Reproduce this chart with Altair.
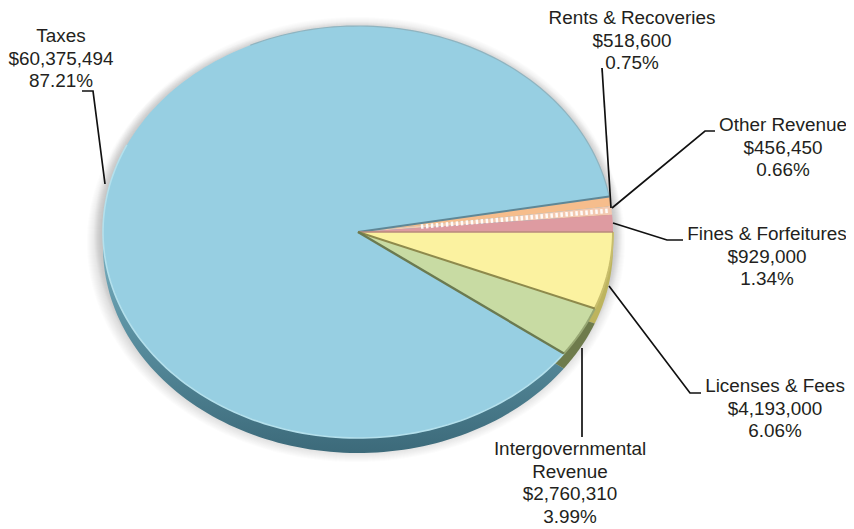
import math
import altair as alt
import pandas as pd

# ---- chart values
categories = ["Rents & Recoveries", "Other Revenue", "Fines & Forfeitures",
              "Licenses & Fees", "Intergovernmental Revenue", "Taxes"]
amounts = [518600, 456450, 929000, 4193000, 2760310, 60375494]
amount_labels = ["$518,600", "$456,450", "$929,000", "$4,193,000", "$2,760,310", "$60,375,494"]
pct_labels = ["0.75%", "0.66%", "1.34%", "6.06%", "3.99%", "87.21%"]

# ---- styles and layout (pixels of the page)
face = ["#F6BD8C", "#F3C9B0", "#DE9BA1", "#FBF2A0", "#C8DBA3", "#97CFE2"]
rim = ["#C99A70", "#C99A70", "#B57E82", "#BDB45E", "#6E7B4C", "#4A7A8B"]
edge = ["#C9A27E", "#DDAA9A", "#B98A7C", "#8E8A4C", "#6B7A50", "#5F8796"]
CX, CY, RX, RY, DEPTH = 358, 232, 255, 206, 15
START_DEG = 9.9
label_lines = [
    ["Rents & Recoveries", "$518,600", "0.75%"],
    ["Other Revenue", "$456,450", "0.66%"],
    ["Fines & Forfeitures", "$929,000", "1.34%"],
    ["Licenses & Fees", "$4,193,000", "6.06%"],
    ["Intergovernmental", "Revenue", "$2,760,310", "3.99%"],
    ["Taxes", "$60,375,494", "87.21%"],
]
label_x = [632, 783, 767, 775, 570, 61]
label_y = [18, 125, 234, 386, 449, 36]
LINE_H = 22.6
leaders = [
    [(602, 68), (611, 208)],
    [(612, 208), (705, 131), (715, 131)],
    [(613, 223), (667, 240), (683, 240)],
    [(609, 286), (690, 393), (701, 393)],
    [(582, 348), (582, 437)],
    [(82, 91), (93, 91), (105, 184)],
]

X = alt.X("x:Q", scale=alt.Scale(domain=[8, 846]), axis=None)
Y = alt.Y("y:Q", scale=alt.Scale(domain=[528, 8]), axis=None)


def line_layer(points, **mark):
    df = pd.DataFrame([{"x": p[0], "y": p[1], "i": i} for i, p in enumerate(points)])
    return alt.Chart(df).mark_line(clip=False, **mark).encode(
        x=X, y=Y, order="i:Q")


def arc_pts(a0, a1, cx=CX, cy=CY, rx=RX, ry=RY):
    n = max(2, int(abs(a1 - a0) / 1.5))
    return [(cx + rx * math.cos(math.radians(a0 + (a1 - a0) * i / n)),
             cy - ry * math.sin(math.radians(a0 + (a1 - a0) * i / n)))
            for i in range(n + 1)]


total = sum(amounts)
angles = [START_DEG]
for v in amounts:
    angles.append(angles[-1] - v / total * 360)

layers = []

# soft shadow
for k in range(14, 0, -1):
    layers.append(line_layer(arc_pts(0, 359, CX - 2, CY + 10, RX + k, RY + k),
                             interpolate="linear-closed", fill="#7d6f6f",
                             fillOpacity=0.02, strokeOpacity=0))
for k in range(9, 0, -1):
    layers.append(line_layer(arc_pts(0, 359, CX, CY, RX + k, RY + k),
                             interpolate="linear-closed", fill="#7d6f6f",
                             fillOpacity=0.022, strokeOpacity=0))

# side of the disc
for idx in [5, 2, 1, 0, 3, 4]:
    pts = [(CX, CY + DEPTH)] + arc_pts(angles[idx], angles[idx + 1], cy=CY + DEPTH)
    if idx == 5:
        fill = alt.LinearGradient(gradient="linear", x1=0, x2=0, y1=0.45, y2=1,
                                  stops=[alt.GradientStop(color="#7FB5C6", offset=0),
                                         alt.GradientStop(color="#5E94A5", offset=0.4),
                                         alt.GradientStop(color="#3C6A7A", offset=1)])
    else:
        fill = rim[idx]
    layers.append(line_layer(pts, interpolate="linear-closed", fill=fill, strokeOpacity=0))

# faces
for idx in [5, 0, 1, 2, 3, 4]:
    pts = [(CX, CY)] + arc_pts(angles[idx], angles[idx + 1])
    layers.append(line_layer(pts, interpolate="linear-closed", fill=face[idx], strokeOpacity=0))

# lit and shaded outer edges
layers.append(line_layer(arc_pts(angles[5], -205), stroke="#B4E0EC", strokeWidth=1.6))
layers.append(line_layer(arc_pts(-245, angles[6]), stroke="#8FB4C0", strokeWidth=1.2))
layers.append(line_layer(arc_pts(angles[3], angles[4]), stroke="#C8BE6C", strokeWidth=2))
layers.append(line_layer(arc_pts(angles[4], angles[5]), stroke="#98A874", strokeWidth=2))

# dashes through the narrow slice
mid = (angles[1] + angles[2]) / 2
layers.append(line_layer([(CX + (RX - 2) * 0.25 * math.cos(math.radians(mid)),
                           CY - RY * 0.25 * math.sin(math.radians(mid))),
                          (CX + (RX - 2) * math.cos(math.radians(mid)),
                           CY - (RY - 2) * math.sin(math.radians(mid)))],
                         stroke="#FFFFFF", strokeWidth=4.5, strokeDash=[2.5, 2.5], opacity=0.9))

# slice boundaries
for a, c, w in [(angles[0], edge[5], 2), (angles[3], edge[2], 1.6), (angles[4], edge[3], 2),
                (angles[5], edge[4], 2.4)]:
    layers.append(line_layer([(CX, CY), (CX + RX * math.cos(math.radians(a)),
                                         CY - RY * math.sin(math.radians(a)))],
                             stroke=c, strokeWidth=w))

# leader lines
for pts in leaders:
    layers.append(line_layer(pts, stroke="#111111", strokeWidth=1.7))

# labels
rows = []
for lines, lx, ly in zip(label_lines, label_x, label_y):
    for j, t in enumerate(lines):
        rows.append({"x": lx, "y": ly + j * LINE_H, "t": t})
layers.append(alt.Chart(pd.DataFrame(rows)).mark_text(
    font="Liberation Sans", fontSize=18.9, color="#231F20", align="center",
    baseline="middle").encode(x=X, y=Y, text="t:N"))

chart = alt.layer(*layers).properties(
    width=838, height=520, padding=0, autosize=alt.AutoSizeParams(type="none")
).configure_view(stroke=None)
chart.save("out.html", embed_options={"renderer": "svg", "actions": False})
